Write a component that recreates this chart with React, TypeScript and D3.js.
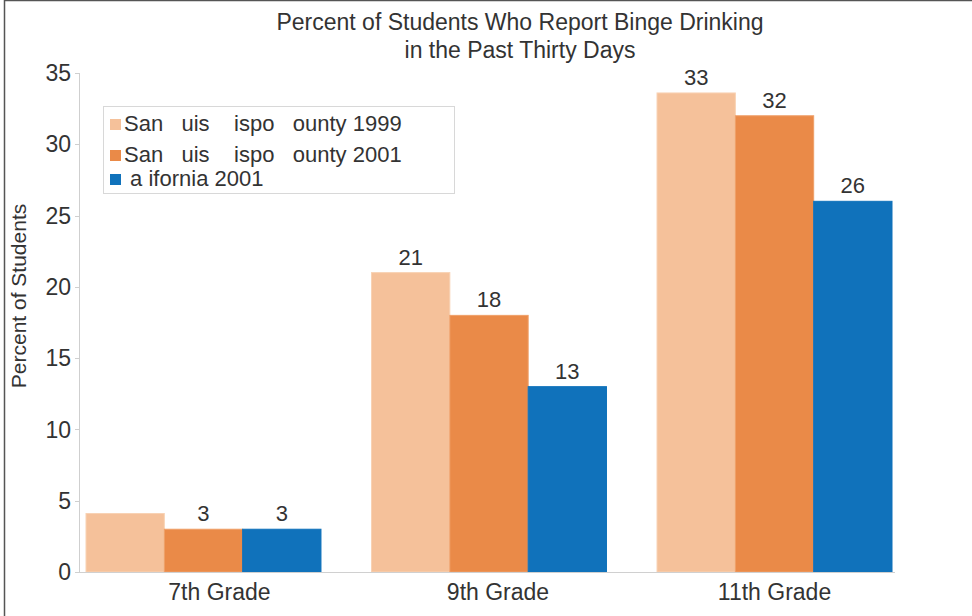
import React from "react";
import * as d3 from "d3";

const grades = ["7th Grade", "9th Grade", "11th Grade"];
const seriesNames = ["San   uis    ispo   ounty 1999", "San   uis    ispo   ounty 2001", " a ifornia 2001"];
const slo1999 = [4.1, 21, 33.6];
const slo2001 = [3, 18, 32];
const california2001 = [3, 13, 26];
const labels1999 = ["", "21", "33"];
const labels2001 = ["3", "18", "32"];
const labelsCA = ["3", "13", "26"];
const yTicks = [0, 5, 10, 15, 20, 25, 30, 35];
const colors = ["#F5C19A", "#EA8A48", "#1072BB"];
const strokes = ["#F8D2B4", "#EF9F68", "#1072BB"];
const gradeLabelShift = [16, 9, 0];

const W = 972;
const H = 616;
const FONT = "'Liberation Sans', Arial, sans-serif";

export default function App() {
  const series = [slo1999, slo2001, california2001];
  const labels = [labels1999, labels2001, labelsCA];
  const y = d3.scaleLinear().domain([0, 35]).range([572, 73]);
  const x0 = d3.scaleBand<string>().domain(grades).range([80, 898]).paddingInner(0.177).paddingOuter(0.021);
  const x1 = d3.scaleBand<number>().domain([0, 1, 2]).range([0, x0.bandwidth()]);

  return (
    <svg width={W} height={H} style={{ position: "absolute", left: 0, top: 0, background: "#fff" }} fontFamily={FONT}>
      <rect x={4.5} y={0.5} width={W + 10} height={H + 10} fill="#fff" stroke="#555" strokeWidth={1.5} />
      <text x={520} y={30} textAnchor="middle" fontSize={23} fill="#333">Percent of Students Who Report Binge Drinking</text>
      <text x={520} y={58} textAnchor="middle" fontSize={23} fill="#333">in the Past Thirty Days</text>

      {/* y axis */}
      <line x1={79.5} x2={79.5} y1={y(35)} y2={y(0)} stroke="#cfcfcf" />
      {yTicks.map((t) => (
        <g key={t}>
          <line x1={75} x2={79.5} y1={Math.round(y(t)) + 0.5} y2={Math.round(y(t)) + 0.5} stroke="#cfcfcf" />
          <text x={71} y={y(t) + 8.2} textAnchor="end" fontSize={23} fill="#333">{t}</text>
        </g>
      ))}
      <text transform={`translate(26,296) rotate(-90)`} textAnchor="middle" fontSize={21} fill="#333">Percent of Students</text>

      {/* bars */}
      {grades.map((g, gi) => (
        <g key={g}>
          {series.map((s, si) => {
            const bx = (x0(g) as number) + (x1(si) as number);
            const by = y(s[gi]);
            return (
              <g key={si}>
                <rect x={bx} y={by} width={x1.bandwidth()} height={y(0) - by} fill={colors[si]} stroke={strokes[si]} strokeWidth={1} />
                {labels[si][gi] && (
                  <text x={bx + x1.bandwidth() / 2} y={by - 8} textAnchor="middle" fontSize={22} fill="#333">{labels[si][gi]}</text>
                )}
              </g>
            );
          })}
          <text x={(x0(g) as number) + x0.bandwidth() / 2 + gradeLabelShift[gi]} y={600} textAnchor="middle" fontSize={23} fill="#333">{g}</text>
        </g>
      ))}
      <line x1={75} x2={895} y1={572.5} y2={572.5} stroke="#d0d0d0" />

      {/* legend */}
      <rect x={103.5} y={106.5} width={351} height={87} fill="#fff" stroke="#d8d8d8" />
      {seriesNames.map((n, i) => {
        const rowsY = [131, 162, 186];
        return (
          <g key={i}>
            <rect x={110} y={rowsY[i] - 12} width={11} height={11} fill={colors[i]} />
            <text x={124} y={rowsY[i]} fontSize={22} fill="#333" style={{ whiteSpace: "pre" }}>{n}</text>
          </g>
        );
      })}
    </svg>
  );
}
